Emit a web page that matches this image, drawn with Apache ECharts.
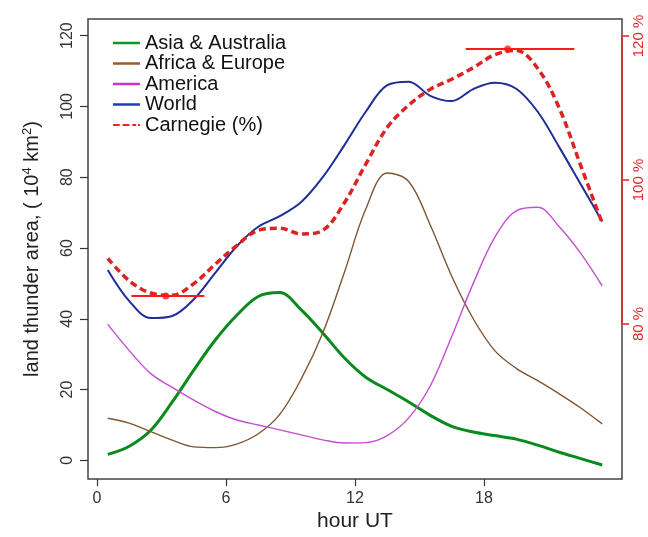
<!DOCTYPE html>
<html><head><meta charset="utf-8">
<script src="https://cdn.jsdelivr.net/npm/echarts@6/dist/echarts.min.js"></script>
<style>html,body{margin:0;padding:0;background:#fff}#c{width:648px;height:537px}</style>
</head><body><div id="c"></div>
<script>
// ---- data ----
const hours    = [0.5,1.5,2.5,3.5,4.5,5.5,6.5,7.5,8.5,9.5,10.5,11.5,12.5,13.5,14.5,15.5,16.5,17.5,18.5,19.5,20.5,21.5,22.5,23.5];
const asia     = [1.7,4,8.5,16.5,25.5,34,41,46.3,47.4,42.5,36,29,23.5,20,16.5,12.7,9.6,8,7,6,4.3,2.3,0.5,-1.3];
const africa   = [11.9,10.5,8.1,5.7,3.8,3.6,4.6,7.5,13,23,36,53,71,81.2,78.8,66.5,52,40,31,26,22.5,18.8,14.8,10.3];
const america  = [38.4,31,24.5,20.6,17,13.8,11.4,10,8.6,7.2,5.8,4.9,5,7,12,21,35,50,63,70.5,71.5,66,58.5,49.3];
const world    = [53.8,45,40.2,40.8,45.5,53,60.5,66,69,73,80,89,98.5,106,107,103,101.5,104.9,106.7,105,98.5,88.5,78,67.5];
const carnegie = [89.1,86,84.3,84,85.6,88.3,90.9,93,93.3,92.5,93,96.8,102.2,107.3,110.4,112.6,114,115.6,117.4,118,115.5,110,102,94];
// Carnegie uncertainty bars (hour range at the level of the marked point)
const errCenterHour = [3.2, 19.1];
const errLowHour    = [1.6, 17.15];
const errHighHour   = [5.0, 22.2];
const errPct        = [83.9, 118.2];
// tick labels
const xTicks   = [0, 6, 12, 18];
const yTicks   = [0, 20, 40, 60, 80, 100, 120];
const pctTicks = [80, 100, 120];
const names    = ['Asia & Australia', 'Africa & Europe', 'America', 'World', 'Carnegie (%)'];

const FONT = '"Liberation Sans", Arial, Helvetica, sans-serif';
const RED = '#e8262a';
const pair = (xs, ys) => xs.map((x, i) => [x, ys[i]]);

const regionSeries = [asia, africa, america, world];
const regionStyle = [
  {color:'#0a8a1e', width:3},
  {color:'#7f5533', width:1.4},
  {color:'#c24fd0', width:1.4},
  {color:'#1d2e96', width:2}
];
const legendColors = ['#0a9a1e', '#9a5a2a', '#cc33cc', '#1a3ad0', '#ff2020'];

const series = [];
regionSeries.forEach((vals, i) => {
  series.push({
    name: names[i], type:'line', xAxisIndex:0, yAxisIndex:0,
    data: pair(hours, vals), smooth:0.35, symbol:'none', clip:false,
    itemStyle:{color:regionStyle[i].color},
    lineStyle:{color:regionStyle[i].color, width:regionStyle[i].width}
  });
});
series.push({
  name: names[4], type:'line', xAxisIndex:1, yAxisIndex:1,
  data: pair(hours, carnegie), smooth:0.35, symbol:'none', clip:false, z:5,
  itemStyle:{color:RED},
  lineStyle:{color:'#dd2222', width:3.5, type:[7,4]}
});
errPct.forEach((p, i) => {
  series.push({
    type:'line', xAxisIndex:1, yAxisIndex:1, symbol:'none', clip:false, z:6,
    data:[[errLowHour[i], p], [errHighHour[i], p]],
    lineStyle:{color:'#ff1a1a', width:2}, silent:true
  });
});
series.push({
  type:'scatter', xAxisIndex:1, yAxisIndex:1, symbolSize:7, z:7, clip:false,
  data: pair(errCenterHour, errPct), itemStyle:{color:'#ff1a1a'}
});

const dashIcon = 'path://M0,0h7v2h-7z M10,0h7v2h-7z M20,0h4v2h-4z M26,0h2v2h-2z';
const legendData = names.map((n, i) => ({
  name: n,
  icon: i === 4 ? dashIcon : 'rect',
  itemStyle: {color: legendColors[i]}
}));

const chart = echarts.init(document.getElementById('c'));
chart.setOption({
  animation:false,
  textStyle:{fontFamily:FONT},
  legend:{
    data:legendData, orient:'vertical', left:108, top:28,
    itemWidth:27, itemHeight:2.5, itemGap:0.5,
    textStyle:{fontFamily:FONT, fontSize:20, color:'#111', lineHeight:20}
  },
  grid:[
    {left:88, right:26, top:19, bottom:52, show:true, borderColor:'#444', borderWidth:1.5},
    {left:88, right:26, top:36, bottom:213, show:false}
  ],
  xAxis:[
    {gridIndex:0, type:'value', min:-0.42, max:24.42,
     axisLine:{show:false, onZero:false}, splitLine:{show:false},
     axisTick:{show:true, customValues:xTicks, length:7, lineStyle:{color:'#333', width:1.2}},
     axisLabel:{customValues:xTicks, fontSize:16, color:'#333', margin:11, fontFamily:FONT},
     name:'hour UT', nameLocation:'middle', nameGap:31,
     nameTextStyle:{fontSize:21, color:'#222', fontFamily:FONT}},
    {gridIndex:1, type:'value', min:-0.42, max:24.42, show:false}
  ],
  yAxis:[
    {gridIndex:0, type:'value', min:-5.3, max:124.7,
     axisLine:{show:false, onZero:false}, splitLine:{show:false},
     axisTick:{show:true, customValues:yTicks, length:8, lineStyle:{color:'#333', width:1.2}},
     axisLabel:{customValues:yTicks, rotate:90, fontSize:16, color:'#333', margin:12, fontFamily:FONT},
     name:'{a|land thunder area, ( 10}{s|4}{a| km}{s|2}{a|)}', nameLocation:'middle', nameGap:44,
     nameTextStyle:{fontFamily:FONT, color:'#222',
       rich:{a:{fontSize:20, fontFamily:FONT, color:'#222'}, s:{fontSize:13, fontFamily:FONT, color:'#222', padding:[0,0,10,0]}}}},
    {gridIndex:1, type:'value', position:'right', min:80, max:120, interval:20,
     axisLine:{show:true, onZero:false, lineStyle:{color:RED, width:1.5}},
     axisTick:{show:true, length:7, lineStyle:{color:RED, width:1.5}},
     axisLabel:{customValues:pctTicks, formatter:'{value} %', rotate:90, color:RED, fontSize:15, margin:9, fontFamily:FONT},
     splitLine:{show:false}}
  ],
  series: series
});
</script>
</body></html>
